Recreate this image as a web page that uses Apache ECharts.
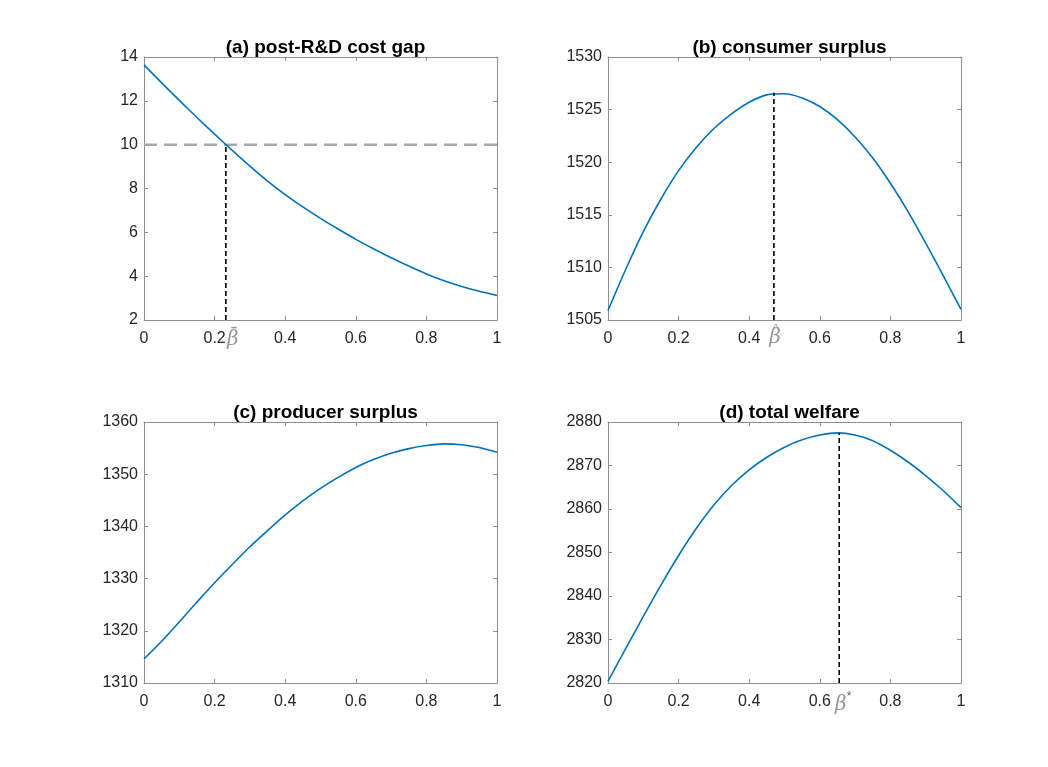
<!DOCTYPE html>
<html>
<head>
<meta charset="utf-8">
<script src="https://cdn.jsdelivr.net/npm/echarts@6/dist/echarts.min.js"></script>
<style>
  html, body { margin: 0; padding: 0; background: #ffffff; }
  #chart { width: 1048px; height: 767px; }
</style>
</head>
<body>
<div id="chart"></div>
<script>
// R&D sharing parameter beta on the horizontal axis of every panel
const beta = [0, 0.05, 0.1, 0.15, 0.2, 0.25, 0.3, 0.35, 0.4, 0.45, 0.5,
              0.55, 0.6, 0.65, 0.7, 0.75, 0.8, 0.85, 0.9, 0.95, 1];

// (a) post-R&D cost gap
const costGap = [13.64, 12.82, 12.02, 11.24, 10.48, 9.74, 9.02, 8.34, 7.72, 7.16, 6.64,
                 6.15, 5.68, 5.25, 4.84, 4.46, 4.10, 3.79, 3.53, 3.31, 3.12];
// (b) consumer surplus
const consumerSurplus = [1505.9, 1509.8, 1513.4, 1516.5, 1519.2, 1521.4, 1523.2, 1524.6, 1525.7, 1526.4, 1526.5,
                         1526.1, 1525.3, 1524.05, 1522.4, 1520.4, 1518.0, 1515.3, 1512.3, 1509.2, 1506.0];
// (c) producer surplus
const producerSurplus = [1314.6, 1318.0, 1321.7, 1325.5, 1329.2, 1332.7, 1336.1, 1339.2, 1342.2, 1344.9, 1347.3,
                         1349.4, 1351.3, 1352.8, 1354.0, 1354.9, 1355.5, 1355.8, 1355.65, 1355.1, 1354.2];
// (d) total welfare
const totalWelfare = [2820.4, 2827.9, 2835.3, 2842.5, 2849.3, 2855.5, 2860.9, 2865.4, 2869.0, 2871.9, 2874.2,
                      2875.9, 2877.0, 2877.5, 2877.0, 2875.7, 2873.5, 2870.8, 2867.7, 2864.2, 2860.3];

const panelTitles = ['(a) post-R&D cost gap', '(b) consumer surplus', '(c) producer surplus', '(d) total welfare'];

// [min, max, step] of each vertical axis, and of the shared horizontal axis
const yScales = [[2, 14, 2], [1505, 1530, 5], [1310, 1360, 10], [2820, 2880, 10]];
const xScale = [0, 1, 0.2];

// reference level and marked beta values
const costThreshold = 10;
const betaBar = 0.232;           // cost gap reaches the threshold
const betaHat = 0.47;            // consumer surplus maximiser
const consumerPeak = 1526.6;
const betaStar = 0.655;          // total welfare maximiser
const welfarePeak = 2877.5;

const panelSeries = [costGap, consumerSurplus, producerSurplus, totalWelfare];

const chart = echarts.init(document.getElementById('chart'), null, { renderer: 'canvas' });

const boxColor = '#8e8e8e';
const textColor = '#262626';
const blue = '#0072BD';
const symbolGray = '#7c7c7c';
const sans = '"Liberation Sans", Arial, Helvetica, sans-serif';
const serif = '"DejaVu Serif", "Liberation Serif", serif';

const grids = [
  { left: 144, top: 57, width: 353, height: 263 },
  { left: 608, top: 57, width: 353, height: 263 },
  { left: 144, top: 422, width: 353, height: 261 },
  { left: 608, top: 422, width: 353, height: 261 }
];

const plainNumber = v => String(Math.round(v * 1000) / 1000);

const xAxes = [];
const yAxes = [];
grids.forEach((g, i) => {
  const common = {
    gridIndex: i, type: 'value',
    axisLine: { show: true, onZero: false, lineStyle: { color: boxColor, width: 1 } },
    axisTick: { show: true, inside: true, length: 4, lineStyle: { color: boxColor } },
    splitLine: { show: false }
  };
  xAxes.push(Object.assign({}, common, {
    position: 'bottom', min: xScale[0], max: xScale[1], interval: xScale[2],
    axisLabel: { show: true, color: textColor, fontFamily: sans, fontSize: 16, margin: 11, formatter: plainNumber }
  }));
  xAxes.push(Object.assign({}, common, {
    position: 'top', min: xScale[0], max: xScale[1], interval: xScale[2],
    axisLabel: { show: false }
  }));
  yAxes.push(Object.assign({}, common, {
    position: 'left', min: yScales[i][0], max: yScales[i][1], interval: yScales[i][2],
    axisLabel: { show: true, color: textColor, fontFamily: sans, fontSize: 16, margin: 6, formatter: plainNumber }
  }));
  yAxes.push(Object.assign({}, common, {
    position: 'right', min: yScales[i][0], max: yScales[i][1], interval: yScales[i][2],
    axisLabel: { show: false }
  }));
});

const titles = panelTitles.map((t, i) => ({
  text: t,
  left: grids[i].left + grids[i].width / 2,
  top: grids[i].top - 24,
  textAlign: 'center',
  textStyle: { fontFamily: sans, fontWeight: 'bold', fontSize: 19, color: '#000000' }
}));

const series = [];

// gray reference level in panel (a)
series.push({
  type: 'line', xAxisIndex: 0, yAxisIndex: 0, silent: true,
  data: [[xScale[0], costThreshold], [xScale[1], costThreshold]],
  showSymbol: false, symbol: 'none',
  lineStyle: { color: '#a8a8a8', width: 2.5, type: [13, 7] }
});

// main curves
panelSeries.forEach((vals, i) => {
  series.push({
    type: 'line', xAxisIndex: 2 * i, yAxisIndex: 2 * i, silent: true,
    data: beta.map((b, k) => [b, vals[k]]),
    showSymbol: false, symbol: 'none', smooth: 0.25,
    lineStyle: { color: blue, width: 1.6 }
  });
});

// dashed drop lines at the marked beta values
const drops = [
  { panel: 0, x: betaBar, y: costThreshold },
  { panel: 1, x: betaHat, y: consumerPeak },
  { panel: 3, x: betaStar, y: welfarePeak }
];
drops.forEach(d => {
  series.push({
    type: 'line', xAxisIndex: 2 * d.panel, yAxisIndex: 2 * d.panel, silent: true,
    data: [[d.x, yScales[d.panel][0]], [d.x, d.y]],
    showSymbol: false, symbol: 'none',
    lineStyle: { color: '#000000', width: 1.6, type: [5, 3] }
  });
});

// beta symbols under the horizontal axes; accents are separate glyphs set above the letter
const betaLabels = [
  { panel: 0, x: betaBar, text: '{b|\u03B2}', offset: [7, 0], distance: 9 },
  { panel: 0, x: betaBar, text: '{acc|\u00AF}', offset: [8, 0], distance: 7 },
  { panel: 1, x: betaHat, text: '{b|\u03B2}', offset: [1, 0], distance: 7 },
  { panel: 1, x: betaHat, text: '{hat|^}', offset: [2, 0], distance: 3 },
  { panel: 3, x: betaStar, text: '{b|\u03B2}{s|*}', offset: [4, 0], distance: 8 }
];
betaLabels.forEach(l => {
  series.push({
    type: 'scatter', xAxisIndex: 2 * l.panel, yAxisIndex: 2 * l.panel, silent: true,
    clip: false, symbol: 'circle', symbolSize: 0,
    itemStyle: { color: 'transparent' },
    data: [[l.x, yScales[l.panel][0]]],
    label: {
      show: true, position: 'bottom', distance: l.distance, offset: l.offset,
      formatter: () => l.text,
      rich: {
        acc: { fontFamily: serif, fontSize: 19, lineHeight: 19, color: symbolGray },
        hat: { fontFamily: sans, fontSize: 11, lineHeight: 11, color: symbolGray },
        b: { fontFamily: serif, fontStyle: 'italic', fontSize: 20, lineHeight: 22, color: symbolGray },
        s: { fontFamily: sans, fontSize: 12, color: '#333333', padding: [0, 0, 16, 0] }
      }
    }
  });
});

chart.setOption({
  backgroundColor: '#ffffff',
  animation: false,
  title: titles,
  grid: grids,
  xAxis: xAxes,
  yAxis: yAxes,
  series: series
});
</script>
</body>
</html>
